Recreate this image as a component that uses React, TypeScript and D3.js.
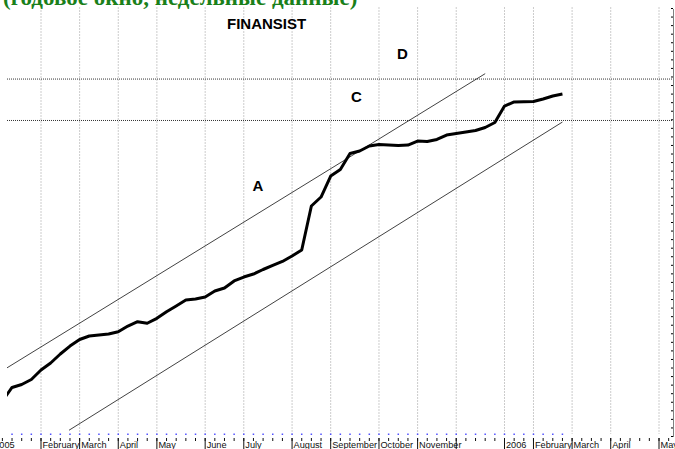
import { useEffect, useRef } from 'react';
import * as d3 from 'd3';

// Weekly closes; week 0 = first week of February 2005
const firstWeek = -4;
const closes = [
    14.1, 15.67, 16.02, 16.6, 17.71, 18.53, 19.58, 20.51, 21.27, 21.68,
    21.8, 21.92, 22.18, 22.85, 23.35, 23.17, 23.75, 24.52, 25.19, 25.89,
    26.0, 26.24, 26.94, 27.29, 28.11, 28.57, 28.92, 29.45, 29.92, 30.39,
    31.03, 31.73, 36.87, 37.92, 40.37, 41.13, 43.0, 43.29, 43.88, 44.05,
    43.99, 43.94, 43.99, 44.46, 44.4, 44.64, 45.16, 45.34, 45.51, 45.69,
    46.04, 46.62, 48.55, 49.02, 49.05, 49.07, 49.37, 49.72, 49.95
];

// Month boundaries (week index) and their labels
const monthWeeks = [-5, 0, 4, 8, 12, 17, 21, 26, 30, 35, 39, 43, 48, 51, 55, 59, 64];
const monthLabels = ["2005", "February", "March", "April", "May", "June", "July", "August",
    "September", "October", "November", "", "2006", "February", "March", "April", "May"];

// Trend channel lines
const channelUpper = [{ week: -4, value: 17.63 }, { week: 46, value: 52.33 }];
const channelLower = [{ week: 2.9, value: 10.67 }, { week: 54, value: 46.68 }];

// Horizontal resistance levels
const levels = [51.7, 46.86];

// Text annotations
const notes = [
    { text: "FINANSIST", week: 19.26, value: 57.55 },
    { text: "D", week: 36.87, value: 54.04 },
    { text: "C", week: 32.1, value: 49.02 },
    { text: "A", week: 21.9, value: 38.62 }
];

const title = "(годовое окно, недельные данные)";

function App() {
    const ref = useRef<SVGSVGElement>(null);

    useEffect(() => {
        const width = 675, height = 449;
        const svg = d3.select(ref.current);
        svg.selectAll("*").remove();

        const x = d3.scaleLinear().domain([0, 64]).range([41, 659]);
        const y = d3.scaleLinear().domain([10, 60]).range([436, 8]);

        svg.append("clipPath").attr("id", "plot")
            .append("rect").attr("x", 7).attr("y", 0).attr("width", 666).attr("height", 436);

        // month grid
        svg.append("g").selectAll("line").data(monthWeeks).enter().append("line")
            .attr("x1", d => x(d)).attr("x2", d => x(d))
            .attr("y1", 7).attr("y2", 434)
            .attr("stroke", "#cccccc").attr("stroke-dasharray", "2,1");

        // right axis
        const right = svg.append("g").attr("transform", "translate(673,0)")
            .call(d3.axisLeft(y).ticks(50).tickSize(2).tickSizeOuter(0).tickFormat(() => ""));
        right.select(".domain").attr("stroke", "#000").attr("stroke-dasharray", "1,1");
        right.selectAll(".tick line").attr("stroke", "#000");

        const plot = svg.append("g").attr("clip-path", "url(#plot)");

        plot.selectAll(".level").data(levels).enter().append("line")
            .attr("x1", 7).attr("x2", 673)
            .attr("y1", d => y(d)).attr("y2", d => y(d))
            .attr("stroke", "#333").attr("stroke-dasharray", "1,1");

        const line = d3.line<{ week: number, value: number }>()
            .x(d => x(d.week)).y(d => y(d.value));

        [channelUpper, channelLower].forEach(c => {
            plot.append("path").attr("d", line(c)!)
                .attr("fill", "none").attr("stroke", "#111").attr("stroke-width", 0.8);
        });

        const series = closes.map((v, i) => ({ week: firstWeek + i, value: v }));
        plot.append("path").attr("d", line(series)!)
            .attr("fill", "none").attr("stroke", "#000").attr("stroke-width", 3)
            .attr("stroke-linejoin", "round");

        // data markers along bottom
        plot.selectAll(".dot").data(series).enter().append("rect")
            .attr("x", d => x(d.week) - 0.75).attr("y", 433.5)
            .attr("width", 1.5).attr("height", 1.5).attr("fill", "#5050ff");

        // x axis ticks
        const weekTicks = d3.range(-5, 67);
        svg.append("g").selectAll("line").data(weekTicks).enter().append("line")
            .attr("x1", d => x(d)).attr("x2", d => x(d))
            .attr("y1", 438).attr("y2", 441)
            .attr("stroke", "#111");
        svg.append("g").selectAll("line").data(monthWeeks).enter().append("line")
            .attr("x1", d => x(d)).attr("x2", d => x(d))
            .attr("y1", 438).attr("y2", 449)
            .attr("stroke", "#111");
        svg.append("g").selectAll("text").data(monthWeeks).enter().append("text")
            .attr("x", d => x(d) + 1.5).attr("y", 448)
            .attr("font-family", "Liberation Sans, Arial, sans-serif").attr("font-size", 9.2)
            .attr("fill", "#111")
            .text((d, i) => monthLabels[i]);

        // annotations
        svg.append("g").selectAll("text").data(notes).enter().append("text")
            .attr("x", d => x(d.week)).attr("y", d => y(d.value))
            .attr("font-family", "Liberation Sans, Arial, sans-serif")
            .attr("font-weight", "bold").attr("font-size", 15)
            .text(d => d.text);

        svg.append("text").attr("x", 3).attr("y", 4.5)
            .attr("font-family", "Liberation Serif, Times New Roman, serif")
            .attr("font-weight", "bold").attr("font-size", 23)
            .attr("fill", "#1a801a")
            .text(title);

        svg.attr("width", width).attr("height", height);
    }, []);

    return (
        <svg ref={ref} style={{ position: "absolute", left: 0, top: 0, background: "#fff" }} />
    );
}

export default App;
